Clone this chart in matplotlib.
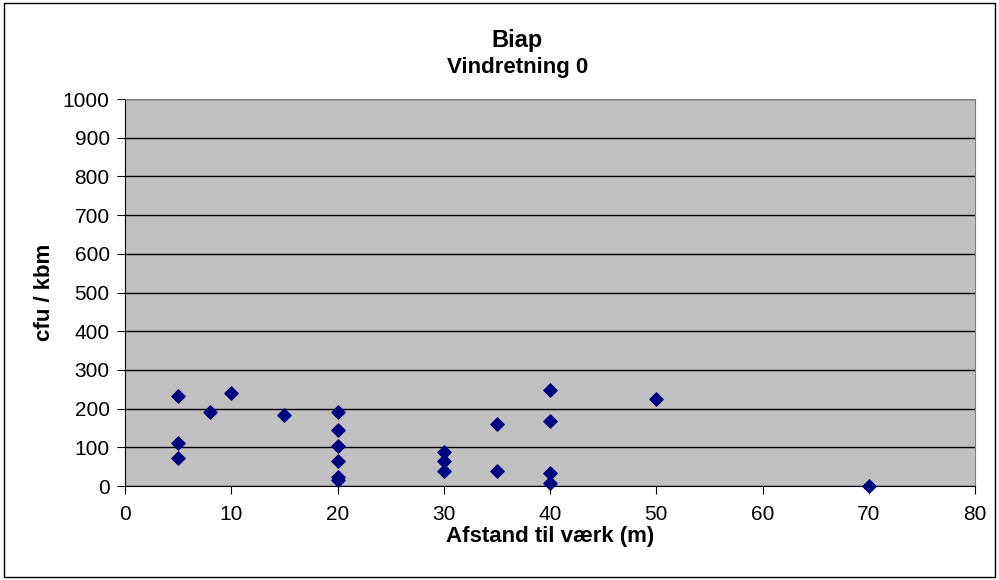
import matplotlib.pyplot as plt
from matplotlib.patches import Rectangle

plt.rcParams['font.family'] = ['Liberation Sans', 'DejaVu Sans']

# distance (m) and measured cfu per kbm
afstand = [5, 5, 5, 8, 10, 15, 20, 20, 20, 20, 20, 20,
           30, 30, 30, 35, 35, 40, 40, 40, 40, 50, 70]
cfu = [232, 112, 72, 192, 240, 184, 192, 144, 103, 64, 23, 15,
       88, 65, 40, 160, 40, 248, 168, 34, 9, 224, 0]

dpi = 100
fig = plt.figure(dpi=dpi, figsize=(999 / dpi, 580 / dpi))
ax = fig.add_axes([125 / 999, 1 - 486 / 580, 850 / 999, 387 / 580])

# outer frame around the whole chart
fig.patches.append(Rectangle((0.004, 0.005), 0.992, 0.99, transform=fig.transFigure,
                             fill=False, edgecolor='black', linewidth=1))

ax.set_facecolor('#C0C0C0')
ax.scatter(afstand, cfu, marker='D', s=45, color='#000080', zorder=3, clip_on=False)

ax.set_xlim(0, 80)
ax.set_ylim(0, 1000)
ax.set_xticks(range(0, 81, 10))
ax.set_yticks(range(0, 1001, 100))
ax.yaxis.grid(True, color='black', linewidth=1)
ax.set_axisbelow(True)

for side in ['top', 'right']:
    ax.spines[side].set_color('#808080')
for side in ['left', 'bottom']:
    ax.spines[side].set_color('black')
ax.tick_params(labelsize=15, length=6, direction='out')
ax.tick_params(axis='x', pad=8)
ax.tick_params(axis='y', pad=5)

ax.set_xlabel('Afstand til værk (m)', fontsize=16, fontweight='bold', labelpad=1)
ax.set_ylabel('cfu / kbm', fontsize=16, fontweight='bold', labelpad=6)

fig.text(0.518, 0.931, 'Biap', ha='center', va='center', fontsize=17, fontweight='bold')
fig.text(0.518, 0.883, 'Vindretning 0', ha='center', va='center', fontsize=16, fontweight='bold')

fig.savefig('out.png')
